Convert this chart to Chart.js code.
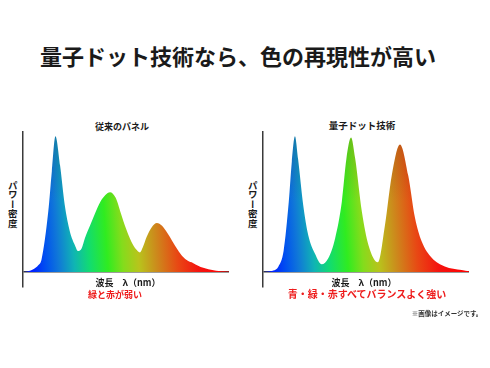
<!DOCTYPE html>
<html lang="ja">
<head>
<meta charset="utf-8">
<script src="https://cdn.jsdelivr.net/npm/chart.js@4"></script>
<style>
  body { margin: 0; width: 490px; height: 368px; background: #fff; position: relative; overflow: hidden;
         font-family: "Noto Sans CJK JP", "Noto Sans", sans-serif; font-weight: 700; color: #1a1a1a; }
  .t { position: absolute; white-space: nowrap; transform: translate(-50%, -50%); line-height: 1; }
  .box { position: absolute; top: 120px; width: 240px; height: 175px; }
  .ylab { position: absolute; writing-mode: vertical-rl; text-orientation: upright; font-size: 9.5px; line-height: 1;
          transform: translate(-50%, -50%); letter-spacing: 0; }
  .red { color: #ee1c1c; }
</style>
</head>
<body>
<div class="t" style="left:238px; top:55px; font-size:22px;">量子ドット技術なら、色の再現性が高い</div>

<div class="t" style="left:122px; top:126px; font-size:9px;">従来のパネル</div>
<div class="t" style="left:362px; top:126px; font-size:9.5px;">量子ドット技術</div>

<div class="ylab" style="left:12px; top:204px;">パワー密度</div>
<div class="ylab" style="left:252px; top:204px;">パワー密度</div>

<div class="box" style="left:0"><canvas id="left"></canvas></div>
<div class="box" style="left:240px"><canvas id="right"></canvas></div>

<div class="t" style="left:128px; top:282px; font-size:9px;">波長　λ（nm）</div>
<div class="t" style="left:364px; top:282px; font-size:9px;">波長　λ（nm）</div>
<div class="t red" style="left:115px; top:294px; font-size:9px;">緑と赤が弱い</div>
<div class="t red" style="left:367px; top:294px; font-size:10px;">青・緑・赤すべてバランスよく強い</div>
<div class="t" style="left:447px; top:313px; font-size:6.5px; color:#333;">※画像はイメージです。</div>

<script>
// spectrum of the conventional panel (wavelength nm / relative power)
const leftNm = [380, 390, 400, 410, 416, 429, 436, 443, 452, 461, 471, 481, 487, 494, 500, 510, 520, 530, 540, 549,
    560, 570, 580, 590, 600, 607, 613, 620, 630, 640, 650, 660, 670, 680, 690, 700, 710, 720, 730, 740, 750, 760, 770, 780];
const leftPower = [0, 0.5, 2, 5, 9, 43, 72, 97, 76, 48, 29, 19, 15, 17, 24, 33, 42, 50, 55, 57,
    53, 42, 31, 22, 16, 14, 18, 25, 32, 35, 33, 28, 22, 16, 11, 8, 6.5, 4.5, 3, 2, 1.3, 0.8, 0.5, 0.3];

// spectrum of the quantum dot panel
const rightNm = [380, 390, 400, 410, 420, 430, 436, 442, 448, 458, 468, 481, 494, 507, 520, 533, 542, 551,
    559, 572, 585, 603, 617, 630, 646, 662, 675, 688, 708, 733, 766, 780];
const rightPower = [0, 0.3, 1, 4, 15, 50, 79, 97, 81, 48, 26, 13, 5.5, 10, 24, 50, 81, 96,
    81, 43, 19, 7, 34, 69, 91, 69, 39, 22, 10, 4, 1.4, 0.5];

const stopNm = [380, 400, 425, 450, 480, 510, 545, 575, 605, 640, 680, 720, 780];
const stopColors = ['#0010ff', '#0022ff', '#0050f0', '#1078d8', '#10b4b4', '#12dc70', '#30ec20', '#84dc1c',
    '#b8c41c', '#cc8a1c', '#e84814', '#f41410', '#ff0000'];

const spectrumFill = {
    id: 'spectrumFill',
    afterDatasetsDraw(chart) {
        const { ctx, chartArea: a, scales } = chart;
        const base = scales.y.getPixelForValue(0);
        ctx.save();
        ctx.globalCompositeOperation = 'source-atop';
        const g = ctx.createLinearGradient(0, a.top, 0, base);
        g.addColorStop(0, 'rgba(40,20,0,0.16)');
        g.addColorStop(0.5, 'rgba(40,20,0,0)');
        ctx.fillStyle = g;
        ctx.fillRect(a.left + 2, a.top, a.right - a.left, base - a.top - 1);
        ctx.restore();
    }
};

function makeChart(id, nm, power) {
    new Chart(document.getElementById(id), {
        type: 'line',
        data: {
            datasets: [{
                data: nm.map((x, i) => ({ x, y: power[i] })),
                fill: 'origin',
                borderWidth: 0,
                pointRadius: 0,
                cubicInterpolationMode: 'monotone',
                backgroundColor: (c) => {
                    const chart = c.chart;
                    if (!chart.chartArea) return '#3c3';
                    const x0 = chart.scales.x.getPixelForValue(380);
                    const x1 = chart.scales.x.getPixelForValue(780);
                    const y0 = chart.scales.y.getPixelForValue(0);
                    const g = chart.ctx.createLinearGradient(x0, y0, x1, y0 - 15);
                    stopNm.forEach((n, i) => g.addColorStop((n - 380) / 400, stopColors[i]));
                    return g;
                }
            }]
        },
        options: {
            responsive: true,
            maintainAspectRatio: false,
            animation: false,
            layout: { padding: { left: 23, top: 12, right: 11, bottom: 8 } },
            plugins: { legend: { display: false }, tooltip: { enabled: false } },
            scales: {
                x: { type: 'linear', min: 380, max: 780, display: false },
                y: {
                    min: -10.7,
                    max: 100,
                    ticks: { display: false, stepSize: 10 },
                    grid: {
                        drawTicks: false,
                        color: (c) => c.tick && c.tick.value === 0 ? '#3a3a3a' : 'rgba(0,0,0,0)',
                        lineWidth: 1.5
                    },
                    border: { display: true, color: '#3a3a3a', width: 1.5 }
                }
            }
        },
        plugins: [spectrumFill]
    });
}

makeChart('left', leftNm, leftPower);
makeChart('right', rightNm, rightPower);
</script>
</body>
</html>
